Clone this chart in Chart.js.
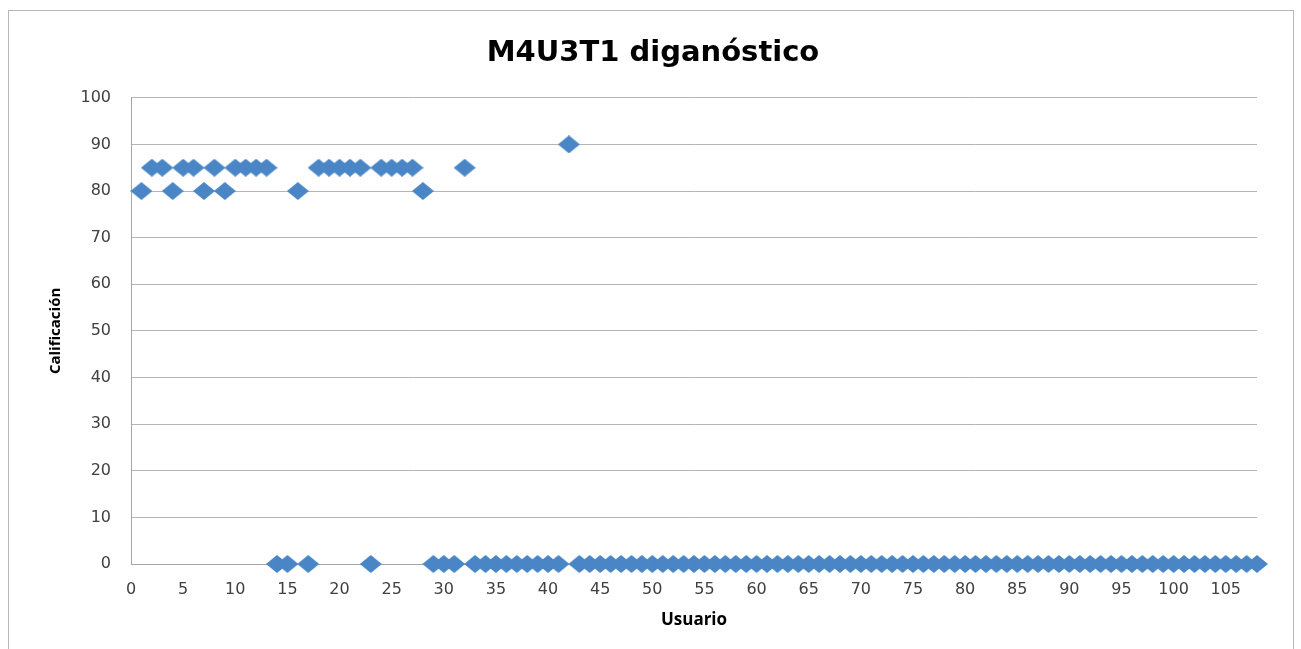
<!DOCTYPE html>
<html>
<head>
<meta charset="utf-8">
<script src="https://cdn.jsdelivr.net/npm/chart.js@4/dist/chart.umd.min.js"></script>
<style>
  html, body { margin: 0; padding: 0; background: #fff; }
  #wrap { width: 1301px; height: 649px; position: relative; }
</style>
</head>
<body>
<div id="wrap"><canvas id="scatterChart"></canvas></div>
<script>
const usuarios = [
  1, 2, 3, 4, 5, 6, 7, 8, 9, 10,
  11, 12, 13, 14, 15, 16, 17, 18, 19, 20,
  21, 22, 23, 24, 25, 26, 27, 28, 29, 30,
  31, 32, 33, 34, 35, 36, 37, 38, 39, 40,
  41, 42, 43, 44, 45, 46, 47, 48, 49, 50,
  51, 52, 53, 54, 55, 56, 57, 58, 59, 60,
  61, 62, 63, 64, 65, 66, 67, 68, 69, 70,
  71, 72, 73, 74, 75, 76, 77, 78, 79, 80,
  81, 82, 83, 84, 85, 86, 87, 88, 89, 90,
  91, 92, 93, 94, 95, 96, 97, 98, 99, 100,
  101, 102, 103, 104, 105, 106, 107, 108
];
const calificaciones = [
  80, 85, 85, 80, 85, 85, 80, 85, 80, 85,
  85, 85, 85, 0, 0, 80, 0, 85, 85, 85,
  85, 85, 0, 85, 85, 85, 85, 80, 0, 0,
  0, 85, 0, 0, 0, 0, 0, 0, 0, 0,
  0, 90, 0, 0, 0, 0, 0, 0, 0, 0,
  0, 0, 0, 0, 0, 0, 0, 0, 0, 0,
  0, 0, 0, 0, 0, 0, 0, 0, 0, 0,
  0, 0, 0, 0, 0, 0, 0, 0, 0, 0,
  0, 0, 0, 0, 0, 0, 0, 0, 0, 0,
  0, 0, 0, 0, 0, 0, 0, 0, 0, 0,
  0, 0, 0, 0, 0, 0, 0, 0
];
const titulo = 'M4U3T1 diganóstico';
const tituloX = 'Usuario';
const tituloY = 'Calificación';

// flattened diamond marker like the Excel one
function makeDiamond(w, h, color) {
  const c = document.createElement('canvas');
  c.width = w; c.height = h;
  const g = c.getContext('2d');
  g.fillStyle = color;
  g.beginPath();
  g.moveTo(w / 2, 0);
  g.lineTo(w, h / 2);
  g.lineTo(w / 2, h);
  g.lineTo(0, h / 2);
  g.closePath();
  g.fill();
  return c;
}
const diamond = makeDiamond(22, 18, '#4a86c6');

const framePlugin = {
  id: 'frame',
  beforeDraw(chart) {
    const ctx = chart.ctx;
    ctx.save();
    ctx.fillStyle = '#fff';
    ctx.fillRect(0, 0, chart.width, chart.height);
    ctx.strokeStyle = '#b8b8b8';
    ctx.lineWidth = 1;
    ctx.strokeRect(8.5, 10.5, 1285, 700);
    ctx.restore();
  }
};

const ctx = document.getElementById('scatterChart').getContext('2d');
new Chart(ctx, {
  type: 'scatter',
  data: {
    datasets: [{
      label: 'Calificación',
      data: usuarios.map((u, i) => ({ x: u, y: calificaciones[i] })),
      pointStyle: diamond,
      pointRadius: 10,
      pointHoverRadius: 10,
      backgroundColor: '#4a86c6',
      clip: false
    }]
  },
  options: {
    responsive: true,
    maintainAspectRatio: false,
    animation: false,
    layout: { padding: { top: 20, left: 49, right: 44, bottom: 0 } },
    plugins: {
      legend: { display: false },
      tooltip: { enabled: false },
      title: {
        display: true,
        text: titulo,
        color: '#000',
        font: { family: 'DejaVu Sans', size: 29, weight: 'bold' },
        padding: { top: 16, bottom: 27 }
      }
    },
    scales: {
      x: {
        type: 'linear',
        min: 0,
        max: 108,
        grid: { display: false },
        border: { display: true, color: '#a6a6a6' },
        ticks: {
          stepSize: 5,
          includeBounds: false,
          padding: 8,
          color: '#404040',
          font: { family: 'DejaVu Sans', size: 16 },
          maxRotation: 0,
          autoSkip: false
        },
        title: {
          display: true,
          text: tituloX,
          color: '#000',
          font: { family: 'Open Sans', size: 17, weight: 'bold' },
          padding: { top: 20, bottom: 19 }
        },
        afterFit(scale) { scale.height = 85; }
      },
      y: {
        min: 0,
        max: 100,
        grid: { color: '#b4b4b4', drawTicks: false },
        border: { display: true, color: '#a6a6a6' },
        ticks: {
          stepSize: 10,
          padding: 20,
          color: '#404040',
          font: { family: 'DejaVu Sans', size: 16 }
        },
        title: {
          display: true,
          text: tituloY,
          color: '#000',
          font: { family: 'Open Sans', size: 15, weight: 'bold' },
          padding: { top: -2, bottom: 0 }
        },
        afterFit(scale) { scale.width = 82; }
      }
    }
  },
  plugins: [framePlugin]
});
</script>
</body>
</html>
